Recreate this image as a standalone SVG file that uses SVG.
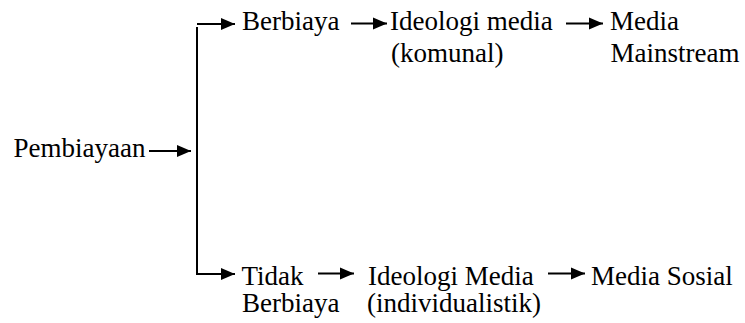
<svg xmlns="http://www.w3.org/2000/svg" width="745" height="323" viewBox="0 0 745 323">
<style>
.t{font-family:'Liberation Serif','Times New Roman',Times,'DejaVu Serif',serif;font-size:27px;fill:#000}
.c{stroke:#000;stroke-width:2;fill:none}
</style>
<defs>
<marker id="ah" markerUnits="userSpaceOnUse" markerWidth="16" markerHeight="14" refX="14" refY="6.5" orient="auto" overflow="visible">
<path d="M0,0.5 L14,6.5 L0,12.5 z" fill="#000"/>
</marker>
</defs>
<rect width="745" height="323" fill="#fff"/>
<g id="connectors">
<line class="c" x1="197" y1="27" x2="197" y2="275"/>
<line class="c" x1="149" y1="151" x2="191" y2="151" marker-end="url(#ah)"/>
<line class="c" x1="197" y1="24" x2="235" y2="24" marker-end="url(#ah)"/>
<line class="c" x1="351" y1="23.5" x2="387" y2="23.5" marker-end="url(#ah)"/>
<line class="c" x1="566" y1="23.5" x2="603" y2="23.5" marker-end="url(#ah)"/>
<line class="c" x1="197" y1="274" x2="235" y2="274" marker-end="url(#ah)"/>
<line class="c" x1="318" y1="273.5" x2="354" y2="273.5" marker-end="url(#ah)"/>
<line class="c" x1="548" y1="273.5" x2="585" y2="273.5" marker-end="url(#ah)"/>
</g>
<g class="t" font-family="Liberation Serif, Times New Roman, serif" font-size="27">
<g id="pembiayaan"><text x="13.5" y="156.5">Pembiayaan</text></g>
<g id="berbiaya"><text x="242" y="30">Berbiaya</text></g>
<g id="ideologi-komunal"><text x="390" y="30">Ideologi media</text><text x="391" y="62">(komunal)</text></g>
<g id="media-mainstream"><text x="610" y="30">Media</text><text x="610.5" y="62">Mainstream</text></g>
<g id="tidak-berbiaya"><text x="241.5" y="284.5">Tidak</text><text x="242" y="312">Berbiaya</text></g>
<g id="ideologi-individualistik"><text x="368" y="284.5">Ideologi Media</text><text x="367" y="312">(individualistik)</text></g>
<g id="media-sosial"><text x="591" y="284.5">Media Sosial</text></g>
</g>
</svg>
